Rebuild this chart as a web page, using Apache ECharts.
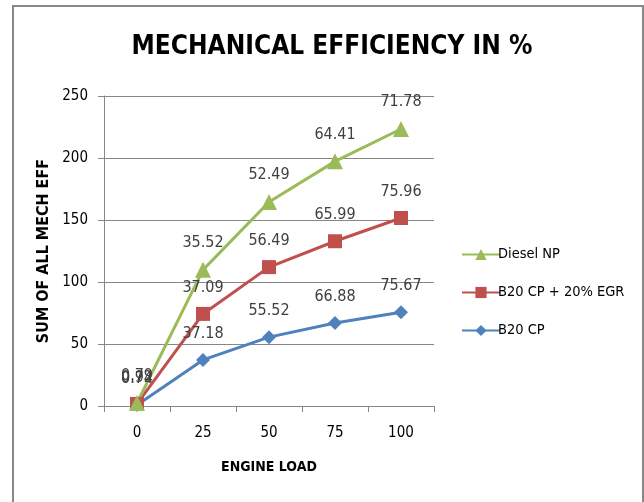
<!DOCTYPE html>
<html><head><meta charset="utf-8">
<script src="https://cdn.jsdelivr.net/npm/echarts@6/dist/echarts.min.js"></script>
<style>html,body{margin:0;padding:0;background:#fff}#c{width:644px;height:502px}</style>
</head><body><div id="c"></div>
<script>
const categories = ['0', '25', '50', '75', '100'];
const b20cp = [0.74, 37.18, 55.52, 66.88, 75.67];
const b20cpEgr = [0.92, 37.09, 56.49, 65.99, 75.96];
const dieselNp = [0.79, 35.52, 52.49, 64.41, 71.78];
const yTicks = [0, 50, 100, 150, 200, 250];

const FONT = '"DejaVu Sans Condensed", "DejaVu Sans", sans-serif';
const chart = echarts.init(document.getElementById('c'));
const lbl = {show: true, position: 'top', distance: 11, color: '#404040', fontSize: 16, fontFamily: FONT};
chart.setOption({
  animation: false,
  graphic: [{type: 'rect', shape: {x: 13, y: 6, width: 630, height: 510}, style: {fill: 'none', stroke: '#888', lineWidth: 2}, silent: true}],
  title: {text: 'MECHANICAL EFFICIENCY IN %', left: 327, textAlign: 'center', top: 29,
    textStyle: {fontFamily: FONT, fontWeight: 'bold', fontSize: 26, color: '#000'}},
  legend: {orient: 'vertical', left: 456, top: 242, itemGap: 23, itemWidth: 38, itemHeight: 14,
    data: ['Diesel NP', 'B20 CP + 20% EGR', 'B20 CP'],
    textStyle: {fontFamily: FONT, fontSize: 14.5, color: '#000', padding: [0,0,0,-7]}},
  grid: {left: 104, right: 210, top: 96, bottom: 96},
  xAxis: {type: 'category', data: categories, boundaryGap: true,
    name: 'ENGINE LOAD', nameLocation: 'middle', nameGap: 54,
    nameTextStyle: {fontFamily: FONT, fontWeight: 'bold', fontSize: 14, color: '#000'},
    axisLine: {lineStyle: {color: '#868686'}},
    axisTick: {show: true, length: 6, lineStyle: {color: '#868686'}},
    axisLabel: {fontFamily: FONT, fontSize: 15, color: '#000', margin: 20}},
  yAxis: {type: 'value', min: yTicks[0], max: yTicks[yTicks.length-1], interval: 50,
    name: 'SUM OF ALL MECH EFF', nameLocation: 'middle', nameGap: 47,
    nameTextStyle: {fontFamily: FONT, fontWeight: 'bold', fontSize: 16, color: '#000'},
    axisLine: {show: true, lineStyle: {color: '#868686'}},
    axisTick: {show: true, length: 6, inside: false, lineStyle: {color: '#868686'}},
    splitLine: {lineStyle: {color: '#868686'}},
    axisLabel: {fontFamily: FONT, fontSize: 15, color: '#000', margin: 16}},
  series: [
    {name: 'B20 CP', type: 'line', stack: 'all', data: b20cp, symbol: 'diamond', symbolSize: 14,
      color: '#4F81BD', lineStyle: {width: 3}, label: lbl},
    {name: 'B20 CP + 20% EGR', type: 'line', stack: 'all', data: b20cpEgr, symbol: 'rect', symbolSize: 14,
      color: '#C0504D', lineStyle: {width: 3}, label: lbl},
    {name: 'Diesel NP', type: 'line', stack: 'all', data: dieselNp, symbol: 'triangle', symbolSize: 16,
      color: '#9BBB59', lineStyle: {width: 3}, label: lbl}
  ]
});
</script></body></html>
